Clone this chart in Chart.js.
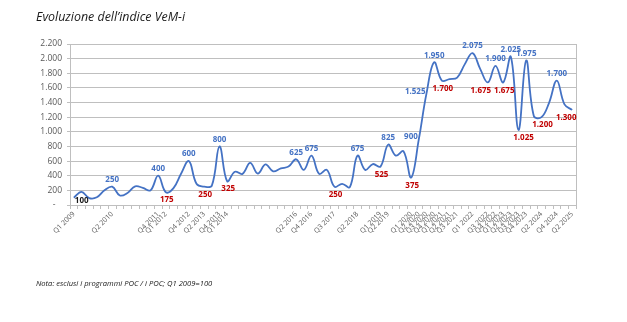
<!DOCTYPE html>
<html>
<head>
<meta charset="utf-8">
<script src="https://cdn.jsdelivr.net/npm/chart.js@4.4.1/dist/chart.umd.min.js"></script>
<style>
  body { margin: 0; background: #fff; }
  #wrap { position: relative; width: 627px; height: 322px; }
  #title { position: absolute; left: 36px; top: 8px; font: italic 12.4px 'Open Sans', sans-serif; color: #1a1a1a; white-space: nowrap; }
  #note { position: absolute; left: 36px; top: 278px; font: italic 7.6px 'Open Sans', sans-serif; color: #1a1a1a; white-space: nowrap; }
  canvas { position: absolute; left: 0; top: 0; }
</style>
</head>
<body>
<div id="wrap">
  <canvas id="chart" width="627" height="322"></canvas>
  <div id="title">Evoluzione dell’indice VeM-i</div>
  <div id="note">Nota: esclusi i programmi POC / i POC; Q1 2009=100</div>
</div>
<script>
// one entry per quarter, Q1 2009 .. Q2 2025; only some quarters are labelled on the axis
const quarters = [
  'Q1 2009', '', '', '', '', 'Q2 2010', '', '', '', '', '', 'Q4 2011',
  'Q1 2012', '', '', 'Q4 2012', '', 'Q2 2013', '', 'Q4 2013', 'Q1 2014', '', '', '',
  '', '', '', '', '', 'Q2 2016', '', 'Q4 2016', '', '', 'Q3 2017', '',
  '', 'Q2 2018', '', '', 'Q1 2019', 'Q2 2019', '', '', 'Q1 2020', 'Q2 2020', 'Q3 2020', 'Q4 2020',
  'Q1 2021', 'Q2 2021', 'Q3 2021', '', 'Q1 2022', '', 'Q3 2022', 'Q4 2022', 'Q1 2023', 'Q2 2023', 'Q3 2023', 'Q4 2023',
  '', 'Q2 2024', '', 'Q4 2024', '', 'Q2 2025'
];

const indexValues = [
  100, 180, 95, 105, 200, 250, 130, 165, 255, 235, 200, 400,
  175, 230, 430, 600, 290, 250, 265, 800, 325, 455, 425, 575,
  430, 555, 460, 500, 525, 625, 480, 675, 425, 480, 250, 290,
  245, 675, 480, 560, 525, 825, 675, 735, 375, 900, 1525, 1950,
  1700, 1720, 1740, 1925, 2075, 1860, 1675, 1900, 1675, 2025, 1025, 1975,
  1215, 1200, 1400, 1700, 1375, 1300
];

// which points carry a value label, and where
const peakLabels = [5, 11, 15, 19, 29, 31, 37, 41, 47, 52, 55, 57, 59, 63];
const troughLabels = [12, 17, 20, 34, 40, 44, 48, 54, 56, 58, 61, 65];
const sideLabels = [45, 46];
const baseLabel = [0];

const yTicks = [0, 200, 400, 600, 800, 1000, 1200, 1400, 1600, 1800, 2000, 2200];

const BLUE = '#4472C4';
const RED = '#C00000';
const GRID = '#BFBFBF';

// small horizontal nudges so crowded labels don't collide
const nudge = { 54: -8, 58: 4, 65: -7 };

function fmt(v) {
  return String(v).replace(/\B(?=(\d{3})+(?!\d))/g, '.');
}

const pointLabelPlugin = {
  id: 'pointLabels',
  afterDatasetsDraw(chart) {
    const ctx = chart.ctx;
    const pts = chart.getDatasetMeta(0).data;
    ctx.save();
    ctx.font = 'bold 8px "Open Sans", sans-serif';
    ctx.textBaseline = 'middle';
    ctx.textAlign = 'center';
    ctx.fillStyle = BLUE;
    peakLabels.forEach(i => ctx.fillText(fmt(indexValues[i]), pts[i].x, pts[i].y - 7));
    ctx.textAlign = 'right';
    sideLabels.forEach(i => ctx.fillText(fmt(indexValues[i]), pts[i].x - 1, pts[i].y - 2));
    ctx.textAlign = 'center';
    ctx.fillStyle = RED;
    troughLabels.forEach(i => ctx.fillText(fmt(indexValues[i]), pts[i].x + 1 + (nudge[i] || 0), pts[i].y + 8));
    ctx.textAlign = 'left';
    ctx.fillStyle = '#1a1a1a';
    baseLabel.forEach(i => ctx.fillText(fmt(indexValues[i]), pts[i].x + 1, pts[i].y + 3));
    ctx.restore();
  }
};

const frameRight = {
  id: 'frameRight',
  beforeDatasetsDraw(chart) {
    const { ctx, chartArea } = chart;
    ctx.save();
    ctx.strokeStyle = GRID;
    ctx.lineWidth = 1;
    ctx.beginPath();
    ctx.moveTo(Math.round(chartArea.right) + 0.5, chartArea.top);
    ctx.lineTo(Math.round(chartArea.right) + 0.5, chartArea.bottom);
    ctx.stroke();
    ctx.restore();
  }
};

new Chart(document.getElementById('chart'), {
  type: 'line',
  data: {
    labels: quarters,
    datasets: [{
      data: indexValues,
      borderColor: BLUE,
      borderWidth: 1.8,
      pointRadius: 0,
      tension: 0.4,
      fill: false
    }]
  },
  options: {
    responsive: false,
    devicePixelRatio: 1,
    animation: false,
    layout: { padding: { left: 0, right: 51, top: 44, bottom: 57 } },
    plugins: {
      legend: { display: false },
      tooltip: { enabled: false }
    },
    scales: {
      x: {
        offset: true,
        afterFit: s => { s.height = 60; },
        grid: { drawOnChartArea: false, drawTicks: true, tickLength: 4, color: GRID, offset: true },
        border: { color: GRID },
        ticks: {
          autoSkip: false,
          maxRotation: 45,
          minRotation: 45,
          padding: 1,
          color: '#595959',
          font: { family: 'Open Sans', size: 7 }
        }
      },
      y: {
        min: 0,
        max: 2200,
        afterFit: s => { s.width = 70; },
        afterBuildTicks: s => { s.ticks = yTicks.map(v => ({ value: v })); },
        grid: { color: GRID, tickLength: 3 },
        border: { color: GRID },
        ticks: {
          padding: 5,
          color: '#595959',
          font: { family: 'Open Sans', size: 8.5 },
          callback: v => v === 0 ? '-   ' : fmt(v)
        }
      }
    }
  },
  plugins: [pointLabelPlugin, frameRight]
});
</script>
</body>
</html>
